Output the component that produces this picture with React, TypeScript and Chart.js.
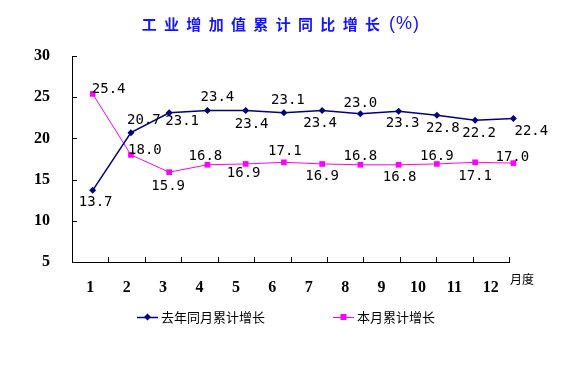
import React, { useEffect, useRef } from "react";
import { Chart, registerables } from "chart.js";

Chart.register(...registerables);

const months = ["1", "2", "3", "4", "5", "6", "7", "8", "9", "10", "11", "12"];
const lastYearCum = [13.7, 20.7, 23.1, 23.4, 23.4, 23.1, 23.4, 23.0, 23.3, 22.8, 22.2, 22.4];
const thisYearCum = [25.4, 18.0, 15.9, 16.8, 16.9, 17.1, 16.9, 16.8, 16.8, 16.9, 17.1, 17.0];
const yTicks = [5, 10, 15, 20, 25, 30];

const titleMain = "工业增加值累计同比增长";
const titleUnit = "(%)";
const seriesNames = ["去年同月累计增长", "本月累计增长"];
const xUnit = "月度";

// label offsets (style): [dx, dy] relative to each point
const lastYearLabelOffsets = [
  [3, 12], [13, -12], [13, 9], [10, -13], [6, 14], [4, -12],
  [-2, 13], [0, -10], [4, 12], [6, 13], [4, 13], [18, 13],
];
const thisYearLabelOffsets = [
  [16, -5], [14, -5], [-1, 14], [-2, -8], [-2, 9], [1, -11],
  [0, 12], [0, -8], [1, 13], [0, -8], [0, 14], [-1, -6],
];

const BLUE = "#000080";
const PINK = "#ff00ff";
const BIG = { left: -9999, top: -9999, right: 99999, bottom: 99999 };

const overlay = {
  id: "overlay",
  afterDatasetsDraw(chart: any) {
    const ctx = chart.ctx;
    const area = chart.chartArea;
    chart.data.datasets.forEach((ds: any, di: number) => {
      const meta = chart.getDatasetMeta(di);
      meta.data.forEach((pt: any) => {
        if (pt.x > area.right - 4) pt.draw(ctx, BIG);
      });
    });
  },
  afterDraw(chart: any) {
    const ctx = chart.ctx;
    const area = chart.chartArea;
    const xs = chart.scales.x;
    const ys = chart.scales.y;
    ctx.save();
    // inside tick marks
    ctx.strokeStyle = "#000";
    ctx.lineWidth = 1;
    ctx.beginPath();
    yTicks.forEach((v) => {
      if (v === yTicks[0]) return;
      const py = Math.round(ys.getPixelForValue(v)) + 0.5;
      ctx.moveTo(area.left, py);
      ctx.lineTo(area.left + 5, py);
    });
    for (let i = 1; i <= months.length; i++) {
      let px: number;
      if (i === months.length) px = area.right;
      else px = (xs.getPixelForValue(i - 1) + xs.getPixelForValue(i)) / 2;
      px = Math.round(px) + 0.5;
      ctx.moveTo(px, area.bottom);
      ctx.lineTo(px, area.bottom - 5);
    }
    ctx.stroke();

    // data labels
    ctx.fillStyle = "#000";
    ctx.font = "14px 'DejaVu Sans Mono', 'Liberation Mono', monospace";
    ctx.textAlign = "center";
    ctx.textBaseline = "middle";
    const allOffsets = [lastYearLabelOffsets, thisYearLabelOffsets];
    chart.data.datasets.forEach((ds: any, di: number) => {
      const meta = chart.getDatasetMeta(di);
      meta.data.forEach((pt: any, i: number) => {
        const off = allOffsets[di][i];
        ctx.fillText(ds.data[i].y.toFixed(1), pt.x + off[0], pt.y + off[1]);
      });
    });

    // title
    ctx.fillStyle = "#1414ff";
    ctx.font = "bold 15px 'Noto Sans CJK SC', sans-serif";
    ctx.textAlign = "center";
    ctx.textBaseline = "middle";
    const chars = Array.from(titleMain);
    const pitch = (365 - 141.7) / (chars.length - 1);
    chars.forEach((c, i) => {
      ctx.fillText(c, 149.2 + i * pitch, 24);
    });
    ctx.font = "18px 'Liberation Sans', sans-serif";
    ctx.textAlign = "left";
    (ctx as any).letterSpacing = "1px";
    ctx.fillText(titleUnit, 389, 24);
    (ctx as any).letterSpacing = "0px";

    // x unit
    ctx.fillStyle = "#000";
    ctx.font = "12px 'Noto Sans CJK SC', sans-serif";
    ctx.textAlign = "left";
    ctx.fillText(xUnit, 510, 279);

    // legend
    const legendItems = [
      { x: 137, color: BLUE, style: "diamond", text: seriesNames[0] },
      { x: 333, color: PINK, style: "square", text: seriesNames[1] },
    ];
    const ly = 317;
    ctx.font = "13px 'Noto Sans CJK SC', sans-serif";
    legendItems.forEach((it) => {
      ctx.strokeStyle = it.color;
      ctx.lineWidth = it.style === "diamond" ? 1.5 : 1;
      ctx.beginPath();
      ctx.moveTo(it.x, ly + 0.5);
      ctx.lineTo(it.x + 21, ly + 0.5);
      ctx.stroke();
      ctx.fillStyle = it.color;
      const cx = it.x + 10.5;
      if (it.style === "diamond") {
        ctx.beginPath();
        ctx.moveTo(cx, ly - 3.5);
        ctx.lineTo(cx + 3.5, ly);
        ctx.lineTo(cx, ly + 3.5);
        ctx.lineTo(cx - 3.5, ly);
        ctx.closePath();
        ctx.fill();
      } else {
        ctx.fillRect(cx - 3, ly - 3, 6, 6);
      }
      ctx.fillStyle = "#000";
      ctx.textAlign = "left";
      ctx.fillText(it.text, it.x + 24, ly);
    });
    ctx.restore();
  },
};

export default function App() {
  const ref = useRef<HTMLCanvasElement | null>(null);
  useEffect(() => {
    if (!ref.current) return;
    const chart = new Chart(ref.current, {
      type: "line",
      data: {
        labels: months,
        datasets: [
          {
            label: seriesNames[0],
            data: lastYearCum.map((v, i) => ({ x: i + 1, y: v })),
            xAxisID: "x2",
            yAxisID: "y",
            borderColor: BLUE,
            backgroundColor: BLUE,
            borderWidth: 1.5,
            pointStyle: "rectRot",
            pointRadius: 3.5,
            pointBorderWidth: 0,
            pointBackgroundColor: BLUE,
            tension: 0,
            clip: false as any,
          },
          {
            label: seriesNames[1],
            data: thisYearCum.map((v, i) => ({ x: i + 1, y: v })),
            xAxisID: "x2",
            yAxisID: "y",
            borderColor: PINK,
            backgroundColor: PINK,
            borderWidth: 1,
            pointStyle: "rect",
            pointRadius: 4,
            pointBorderWidth: 0,
            pointBackgroundColor: PINK,
            tension: 0,
            clip: false as any,
          },
        ],
      },
      options: {
        responsive: false,
        animation: false,
        events: [],
        layout: { padding: { left: 0, top: 56, right: 59, bottom: 82 } },
        plugins: {
          legend: { display: false },
          title: { display: false },
          tooltip: { enabled: false },
        },
        scales: {
          x: {
            type: "category",
            offset: true,
            grid: { display: false, offset: true },
            border: { display: true, color: "#000", width: 1 },
            ticks: {
              color: "#000",
              padding: 8,
              font: { family: "'Liberation Serif', serif", size: 16, weight: "bold" },
              maxRotation: 0,
              autoSkip: false,
            },
            afterFit: (s: any) => {
              s.height = 40;
            },
          },
          x2: {
            type: "linear",
            display: false,
            min: 0.459,
            max: 11.886,
          },
          y: {
            type: "linear",
            min: 5,
            max: 30,
            grid: { display: false },
            border: { display: true, color: "#000", width: 1 },
            ticks: {
              stepSize: 5,
              color: "#000",
              padding: 14,
              font: { family: "'Liberation Serif', serif", size: 16, weight: "bold" },
            },
            afterFit: (s: any) => {
              s.width = 72;
            },
          },
        } as any,
      },
      plugins: [overlay],
    });
    return () => chart.destroy();
  }, []);
  return (
    <div style={{ position: "absolute", left: 0, top: 0, width: 568, height: 384, background: "#fff" }}>
      <canvas ref={ref} width={568} height={384} style={{ width: 568, height: 384 }} />
    </div>
  );
}
